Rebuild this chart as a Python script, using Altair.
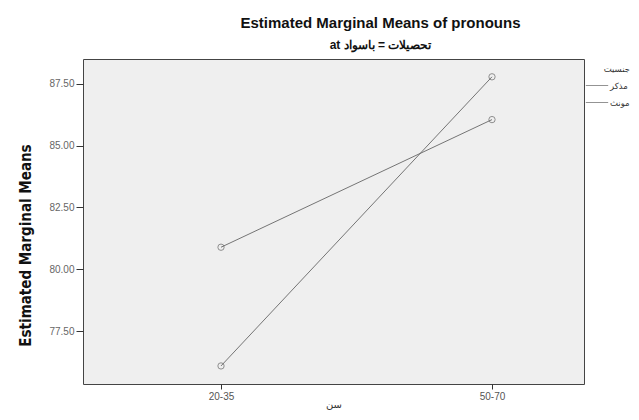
import altair as alt
import pandas as pd

ages = ["20-35", "50-70"]
genders = ["مذکر", "مونث"]
male_means = [76.09, 87.78]
female_means = [80.89, 86.05]
y_ticks = [77.5, 80.0, 82.5, 85.0, 87.5]

rows = []
for g, vals in zip(genders, [male_means, female_means]):
    for a, v in zip(ages, vals):
        rows.append({"age": a, "gender": g, "mean": v})
df = pd.DataFrame(rows)

x_enc = alt.X(
    "age:N",
    sort=ages,
    scale=alt.Scale(type="point", padding=0.4244, align=0.6),
    axis=alt.Axis(
        title="سن", labelAngle=0, domain=False, tickSize=5, tickColor="#333",
        labelColor="#555", labelFontSize=10, labelFont="Liberation Sans",
        titleFont="DejaVu Sans", titleFontSize=10, titleFontWeight="normal",
        titleColor="#333", titleY=15, titleBaseline="top", labelPadding=2,
    ),
)
y_enc = alt.Y(
    "mean:Q",
    scale=alt.Scale(domain=[75.36, 88.5], nice=False, zero=False),
    axis=alt.Axis(
        title="Estimated Marginal Means", values=y_ticks, format=".2f",
        grid=False, domain=False, tickSize=7, tickColor="#333",
        labelColor="#666", labelFontSize=10, labelFont="Liberation Sans",
        labelPadding=2,
        titleFont="DejaVu Sans Condensed", titleFontSize=15,
        titleFontWeight="bold", titleColor="#111",
        titleX=-58, titleY=186, titleAlign="center", titleBaseline="middle",
    ),
)
color_enc = alt.Color(
    "gender:N",
    sort=genders,
    scale=alt.Scale(domain=genders, range=["#666666", "#666666"]),
    legend=alt.Legend(
        title="جنسیت", orient="none", legendX=502, legendY=6,
        symbolType="stroke", symbolSize=500, symbolStrokeWidth=1,
        labelFont="DejaVu Sans", labelFontSize=8.5, labelColor="#333",
        titleFont="DejaVu Sans", titleFontSize=8.5, titleFontWeight="normal",
        titleColor="#333", titleAnchor="end", titlePadding=0, rowPadding=-13,
        labelOffset=1,
    ),
)

base = alt.Chart(df).encode(x=x_enc, y=y_enc, color=color_enc, detail="gender:N")
lines = base.mark_line(strokeWidth=0.9)
points = base.mark_point(shape="circle", filled=False, size=40, strokeWidth=1)

chart = (
    (lines + points)
    .properties(
        width=501,
        height=325,
        background="white",
        title=alt.TitleParams(
            "Estimated Marginal Means of pronouns",
            subtitle="at تحصیلات = باسواد",
            anchor="middle", dx=47, offset=8,
            font="Liberation Sans", fontSize=15, fontWeight="bold", color="#111",
            subtitleFont="Liberation Sans", subtitleFontSize=12,
            subtitleFontWeight="bold", subtitleColor="#111", subtitlePadding=9,
        ),
        autosize=alt.AutoSizeParams(type="none"),
        padding={"left": 75, "top": 51, "right": 47, "bottom": 28},
    )
    .configure_view(fill="#efefef", stroke="#444", strokeWidth=1)
)

chart.save("out.html", embed_options={"renderer": "svg", "actions": False})
